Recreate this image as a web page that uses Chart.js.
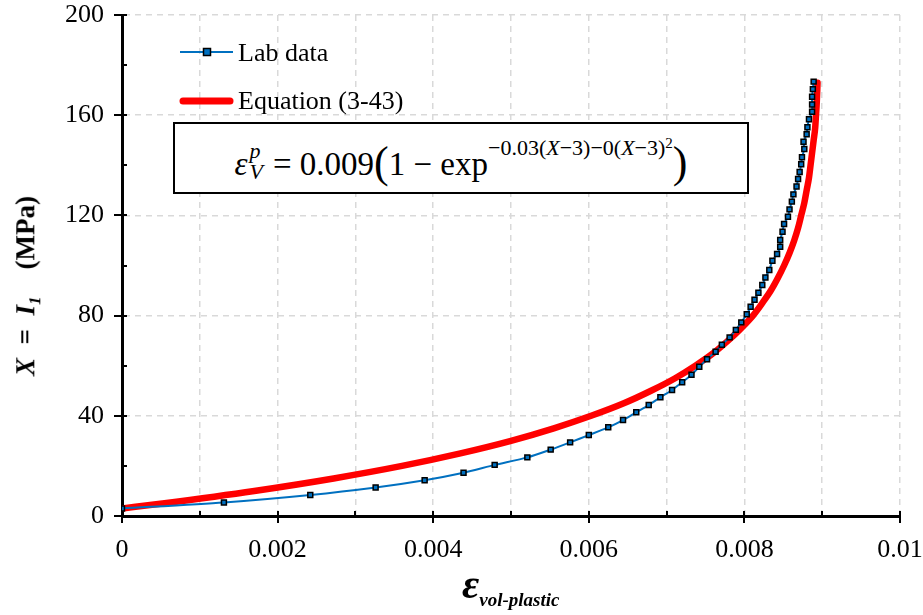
<!DOCTYPE html>
<html>
<head>
<meta charset="utf-8">
<script src="https://cdn.jsdelivr.net/npm/chart.js@4.4.1/dist/chart.umd.min.js"></script>
<style>
  html, body { margin:0; padding:0; background:#fff; }
  #wrap { position:relative; width:923px; height:615px; overflow:hidden; }
  #c { position:absolute; left:0; top:0; }
  .serif { font-family:"Liberation Serif","Times New Roman",serif; color:#000; }
  #eqbox { position:absolute; left:173px; top:122px; width:576px; height:72px; border:2px solid #000;
           box-sizing:border-box; background:#fff; display:flex; align-items:center; justify-content:center;
           font-size:33px; white-space:nowrap; }
  #eqbox .inner { position:relative; top:4px; }
  #eqbox .big { font-size:44px; position:relative; top:2px; }
  #eqbox .ss { display:inline-block; vertical-align:middle; line-height:0.95; font-size:22px; margin-left:2px; margin-right:10px; position:relative; top:-6px; }
  #eqbox .ss span { display:block; }
  #eqbox sup.e { font-size:22px; position:relative; top:-8px; vertical-align:super; }
  #eqbox sup.e sup { font-size:15px; vertical-align:super; position:relative; top:1px; }
  #ytitle { position:absolute; left:28px; top:286px; transform:translate(-50%,-50%) rotate(-90deg);
            font-weight:bold; font-size:27px; white-space:pre; }
  #ytitle sub { font-size:17px; vertical-align:sub; }
  #xtitle { position:absolute; left:462px; top:560px; font-weight:bold; font-style:italic; white-space:nowrap; }
  #xtitle .eps { font-size:42px; }
  #xtitle .sub { font-size:19px; position:relative; top:8px; }
</style>
</head>
<body>
<div id="wrap">
  <canvas id="c" width="923" height="615"></canvas>
  <div id="eqbox" class="serif"><span class="inner"><i>ε</i><span class="ss"><span><i>p</i></span><span><i>V</i></span></span>= 0.009<span class="big">(</span>1 − exp<sup class="e">−0.03(<i>X</i>−3)−0(<i>X</i>−3)<sup>2</sup></sup><span class="big">)</span></span></div>
  <div id="ytitle" class="serif"><i>X</i>  =  <i>I</i><sub><i>1</i></sub>    (MPa)</div>
  <div id="xtitle" class="serif"><span class="eps">ε</span><span class="sub">vol-plastic</span></div>
</div>
<script>
// ---- Data ----
// Lab data: volumetric plastic strain and X = I1 (MPa)
const labStrain = [0, 0.00131, 0.00242, 0.00326, 0.00389, 0.00439, 0.00479, 0.00521, 0.00551, 0.00576,
  0.00600, 0.00625, 0.00644, 0.00661, 0.00677, 0.00692, 0.00707, 0.00720, 0.00732, 0.00742,
  0.00752, 0.00763, 0.00771, 0.00781, 0.00789, 0.00796, 0.00803, 0.00808, 0.00813, 0.00818,
  0.00823, 0.00827, 0.00832, 0.00836, 0.00842, 0.00846, 0.00846, 0.00849, 0.00851, 0.00856,
  0.00858, 0.00861, 0.00863, 0.00867, 0.00869, 0.00871, 0.00873, 0.00874, 0.00877, 0.00876,
  0.00880, 0.00881, 0.00883, 0.00887, 0.00887, 0.00887, 0.00888, 0.00889];
const labX = [3, 5.4, 8.4, 11.4, 14.3, 17.3, 20.4, 23.4, 26.5, 29.4,
  32.3, 35.4, 38.3, 41.4, 44.3, 47.4, 50.3, 53.4, 56.4, 59.6,
  62.6, 65.6, 68.4, 71.3, 74.3, 77.3, 80.5, 83.5, 86.3, 89.1,
  92.2, 95.2, 98.2, 101.9, 104.6, 107.5, 110.2, 113.5, 116.6, 119.5,
  122.4, 125.5, 128.4, 131.5, 134.5, 137.3, 140.4, 143.2, 146.5, 149.4,
  152.4, 155.2, 158.4, 161.4, 164.3, 167.4, 170.4, 173.4];
// Equation (3-43) curve
const eqStrain = [0, 0.00052, 0.00170, 0.00272, 0.00360, 0.00435, 0.00500, 0.00555, 0.00603, 0.00645,
  0.00680, 0.00711, 0.00737, 0.00760, 0.00779, 0.00796, 0.00811, 0.00823, 0.00834, 0.00843,
  0.00851, 0.00858, 0.00864, 0.00869, 0.00873, 0.00877, 0.00880, 0.00883, 0.00885, 0.00887,
  0.00889, 0.00891, 0.00892, 0.00893, 0.00894];
const eqX = [3, 5, 10, 15, 20, 25, 30, 35, 40, 45,
  50, 55, 60, 65, 70, 75, 80, 85, 90, 95,
  100, 105, 110, 115, 120, 125, 130, 135, 140, 145,
  150, 155, 160, 165, 173];
const seriesNames = ["Lab data", "Equation (3-43)"];
const xTickLabels = ["0", "0.002", "0.004", "0.006", "0.008", "0.01"];
const yTickLabels = ["0", "40", "80", "120", "160", "200"];

const toPts = (xs, ys) => xs.map((x, i) => ({ x: x, y: ys[i] }));
const FONT = '"Liberation Serif", "Times New Roman", serif';
const BLUE = '#0070C0', RED = '#FF0000', GRID = '#D9D9D9';

const tickPlugin = {
  id: 'ticksAndLegend',
  afterDatasetsDraw(chart) {
    const ctx = chart.ctx;
    const xs = chart.scales.x, ys = chart.scales.y;
    const ca = chart.chartArea;
    ctx.save();
    ctx.strokeStyle = '#000';
    ctx.lineWidth = 2;
    xs.ticks.forEach((t, i) => {
      const px = Math.round(xs.getPixelForValue(t.value));
      ctx.beginPath();
      if (i % 2 === 0) { ctx.moveTo(px, ca.bottom - 5); ctx.lineTo(px, ca.bottom + 7); }
      else { ctx.moveTo(px, ca.bottom - 5); ctx.lineTo(px, ca.bottom); }
      ctx.stroke();
    });
    ys.ticks.forEach((t, i) => {
      const py = Math.round(ys.getPixelForValue(t.value));
      ctx.beginPath();
      if (i % 2 === 0) { ctx.moveTo(ca.left - 8, py); ctx.lineTo(ca.left + 5, py); }
      else { ctx.moveTo(ca.left, py); ctx.lineTo(ca.left + 5, py); }
      ctx.stroke();
    });
    // legend
    const ds = chart.data.datasets;
    ctx.font = '26px ' + FONT;
    ctx.fillStyle = '#000';
    ctx.textBaseline = 'middle';
    ctx.strokeStyle = BLUE; ctx.lineWidth = 2; ctx.lineCap = 'butt';
    ctx.beginPath(); ctx.moveTo(180, 52); ctx.lineTo(233, 52); ctx.stroke();
    ctx.fillStyle = BLUE; ctx.fillRect(203.5, 48.5, 7, 7);
    ctx.strokeStyle = '#000'; ctx.lineWidth = 1.5; ctx.strokeRect(203.5, 48.5, 7, 7);
    ctx.fillStyle = '#000';
    ctx.fillText(ds[0].label, 238, 54);
    ctx.strokeStyle = RED; ctx.lineWidth = 7; ctx.lineCap = 'round';
    ctx.beginPath(); ctx.moveTo(183, 101); ctx.lineTo(230, 101); ctx.stroke();
    ctx.fillText(ds[1].label, 238, 102);
    ctx.restore();
  }
};

function build() {
  new Chart(document.getElementById('c'), {
    type: 'scatter',
    data: {
      datasets: [
        {
          label: seriesNames[0],
          data: toPts(labStrain, labX),
          showLine: true,
          borderColor: BLUE,
          borderWidth: 2,
          tension: 0.25,
          pointStyle: 'rect',
          pointRadius: 3.5,
          pointBackgroundColor: BLUE,
          pointBorderColor: '#000',
          pointBorderWidth: 1.5
        },
        {
          label: seriesNames[1],
          data: toPts(eqStrain, eqX),
          showLine: true,
          borderColor: RED,
          borderWidth: 6.5,
          borderCapStyle: 'round',
          borderJoinStyle: 'round',
          cubicInterpolationMode: 'monotone',
          pointRadius: 0
        }
      ]
    },
    options: {
      responsive: false,
      animation: false,
      devicePixelRatio: 1,
      layout: { padding: { top: 15, right: 23, left: 0, bottom: 0 } },
      plugins: { legend: { display: false }, tooltip: { enabled: false } },
      scales: {
        x: {
          type: 'linear', min: 0, max: 0.01,
          afterFit: (s) => { s.height = 99; s.paddingLeft = 0; s.paddingRight = 0; },
          ticks: {
            stepSize: 0.001, autoSkip: false, maxRotation: 0, padding: 19,
            font: { family: FONT, size: 26 }, color: '#000',
            callback: (v, i) => (i % 2 === 0 ? xTickLabels[i / 2] : '')
          },
          grid: { color: GRID, lineWidth: 1.5, drawTicks: false },
          border: { display: true, color: '#000', width: 3, dash: [6, 5] }
        },
        y: {
          type: 'linear', min: 0, max: 200,
          afterFit: (s) => { s.width = 122; s.paddingTop = 0; s.paddingBottom = 0; },
          ticks: {
            stepSize: 20, autoSkip: false, padding: 18,
            font: { family: FONT, size: 26 }, color: '#000',
            callback: (v, i) => (i % 2 === 0 ? yTickLabels[i / 2] : '')
          },
          grid: {
            color: (c) => (c.index % 2 === 0 ? GRID : 'rgba(0,0,0,0)'),
            lineWidth: 1.5, drawTicks: false
          },
          border: { display: true, color: '#000', width: 3, dash: [6, 5] }
        }
      }
    },
    plugins: [tickPlugin]
  });
}
if (document.fonts && document.fonts.load) {
  Promise.all([
    document.fonts.load('26px "Liberation Serif"'),
    document.fonts.load('bold 26px "Liberation Serif"')
  ]).then(build, build);
} else { build(); }
</script>
</body>
</html>
